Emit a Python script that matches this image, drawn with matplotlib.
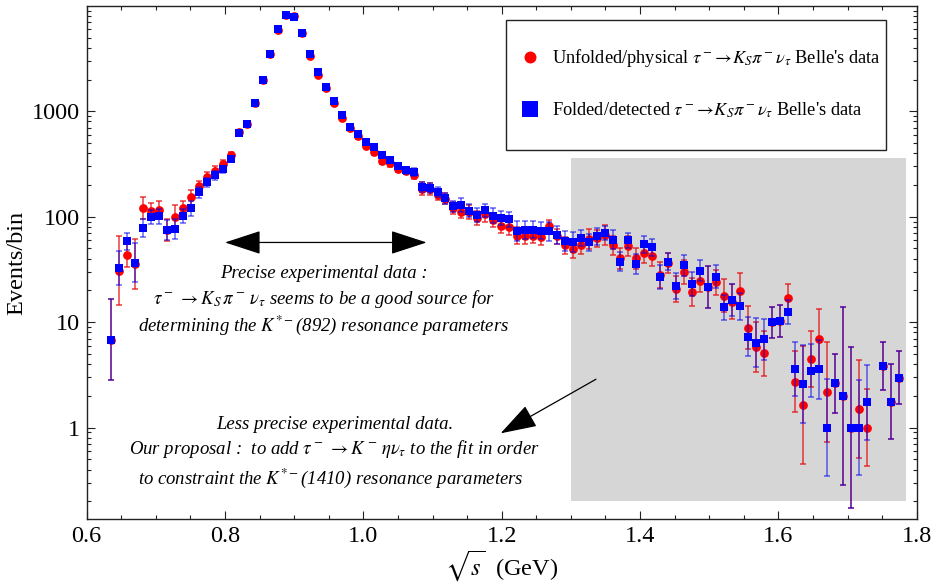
import numpy as np
import matplotlib
matplotlib.use("Agg")
import matplotlib.pyplot as plt
from matplotlib.lines import Line2D
from matplotlib.patches import Rectangle
from matplotlib.ticker import FixedLocator, LogLocator, MultipleLocator, FuncFormatter, NullFormatter

plt.rcParams['font.family'] = ['Liberation Serif', 'DejaVu Serif']
plt.rcParams['mathtext.fontset'] = 'stix'

# Belle tau -> K_S pi nu spectrum, 11.5 MeV bins (first bin centre 0.63575 GeV)
bin_first = 0.63575
bin_width = 0.0115
nbins = 100

unfolded = [6.8, 30.9, 43.6, 35.5, 120.9, 114, 116.6, 75.3, 98.6, 120.9,
            152.6, 194.2, 236.4, 271.5, 316.4, 382.3, 632, 764, 1192, 1971,
            3481, 5884, 8106, 7989, 5549, 3332, 2216, 1655, 1201, 865,
            690, 579, 472, 414, 340, 321, 286, 273.5, 250.5, 184.5,
            183, 161.8, 148.2, 120.9, 110.7, 111.6, 97.1, 106, 93.6, 82.1,
            79.2, 66, 66, 66.2, 64.1, 81, 65, 53.4, 49.7, 54.2,
            61.4, 62.3, 66.7, 53.4, 40.5, 53.0, 40.5, 45.2, 42.0, 27.9,
            36.3, 20.6, 29.8, 19.3, 24.8, 21.5, 23.8, 17.8, 15.7, 19.8,
            8.89, 5.87, 5.07, 10.0, 10.3, 17.0, 2.73, 1.64, 4.45, 6.89,
            2.19, 2.63, 2.0, 1.0, 1.50, 1.0, np.nan, 3.85, 1.76, 2.98]
unfolded_err = [6.0, 23.4, 12.1, 19.4, 29.5, 20.4, 21.2, 18.4, 25.9, 18.5,
                25, 22.4, 25, 26.8, 27.7, 28, 30, 33, 40, 52,
                70, 88, 105, 104, 87, 68, 55, 47, 40, 35,
                32, 30, 28, 26, 26, 25, 24, 23, 25, 24.9,
                24.8, 20.5, 17, 15.9, 14, 17, 14.8, 17.4, 14.7, 13.4,
                13.3, 12.5, 11.8, 10.6, 10.9, 11.8, 11.1, 9.7, 10, 11.2,
                13.4, 11.8, 14.9, 10.7, 9.3, 11.6, 9.3, 9.6, 8.9, 8.1,
                7.7, 5.8, 7.6, 6, 6.3, 9.8, 6.5, 6.5, 6, 7.9,
                4.2, 3.2, 2.5, 3.4, 3.6, 5, 1.8, 2.1, 2.7, 4.5,
                2.4, 1.7, 3.9, 1.75, 1.6, 0.84, np.nan, 2.0, 1.44, 1.74]

folded = [6.8, 32.6, 58.3, 36.8, 77.5, 99.3, 100.7, 75.3, 76.4, 100.7,
          120, 170.3, 212, 247, 281.5, 352.9, 618.6, 753, 1192, 2000,
          3507, 5970, 8166, 7816, 5549, 3455, 2331, 1680, 1264, 917,
          716, 610, 512, 459, 382, 345, 301, 275.4, 265.6, 190,
          187, 170.3, 149.3, 125.4, 128, 114, 104.5, 114.9, 102.2, 97.1,
          94.3, 72.6, 75.3, 75.3, 73.6, 72.6, 67, 58.3, 57.9, 62.7,
          57.4, 65.1, 70.0, 60.5, 37.6, 59.6, 35.5, 54.6, 51.1, 26.7,
          37.4, 22.1, 34.5, 22.9, 30.9, 21.5, 27.1, 13.8, 16.3, 14.1,
          7.30, 6.41, 6.89, 10.0, 10.3, 12.6, 3.57, 2.58, 3.47, 3.57,
          1.0, 2.63, 2.0, 1.0, 1.0, 1.74, np.nan, 3.85, 1.76, 2.98]
folded_err = [6.0, 12.2, 10.6, 15.8, 15.3, 15.6, 16.1, 16.7, 16.1, 15.4,
              18.8, 19.6, 20.9, 22.7, 22.7, 24, 26, 28, 35, 45,
              60, 77, 90, 88, 75, 58, 48, 41, 36, 31,
              28, 27, 25, 24, 23, 22, 21, 21, 24.5, 20.6,
              20, 18, 17, 14.4, 19.5, 16, 16.4, 16.7, 16.8, 14.2,
              16, 15.9, 14.6, 13.7, 13.9, 15.4, 13.4, 12.7, 12.7, 11.4,
              10.5, 12.6, 11, 12.8, 7.5, 10.2, 7.8, 9.9, 9.3, 7.1,
              7.1, 6.2, 7.8, 6, 7, 9.8, 6.9, 3.8, 5.6, 4.2,
              3.1, 3.4, 3.1, 3.4, 3.6, 3.3, 2.1, 2.2, 2.0, 2.3,
              1.06, 1.7, 3.9, 1.75, 1.04, 1.43, np.nan, 2.0, 1.44, 1.74]

x_ticks = [0.6, 0.8, 1.0, 1.2, 1.4, 1.6, 1.8]
y_ticks = [1, 10, 100, 1000]


def log_err(y, dy):
    # the errors are drawn symmetric in log(y)
    y = np.asarray(y, float)
    dy = np.asarray(dy, float)
    lo = y - y * np.exp(-dy / y)
    hi = y * np.exp(dy / y) - y
    return np.vstack([lo, hi])


sqrt_s = bin_first + bin_width * np.arange(nbins)

fig = plt.figure(figsize=(9.35, 5.85), dpi=100)
ax = fig.add_axes([0.0927, 0.1128, 0.8877, 0.8769])

ax.add_patch(Rectangle((1.3, 0.2), 0.484, 363, facecolor='#d6d6d6', edgecolor='none', zorder=0))

ax.errorbar(sqrt_s, unfolded, yerr=log_err(unfolded, unfolded_err), fmt='none',
            ecolor=(0.9, 0.05, 0.05, 0.8), elinewidth=1.1, capsize=2.3, capthick=1.1, zorder=2)
ax.plot(sqrt_s, unfolded, 'o', color='#ff0000', markersize=6.3, markeredgewidth=0, zorder=3)
ax.errorbar(sqrt_s, folded, yerr=log_err(folded, folded_err), fmt='none',
            ecolor=(0.0, 0.0, 0.95, 0.6), elinewidth=1.1, capsize=2.3, capthick=1.1, zorder=4)
ax.plot(sqrt_s, folded, 's', color='#0000ff', markersize=5.4, markeredgewidth=0, zorder=5)

ax.set_yscale('log')
ax.set_xlim(0.6, 1.8)
ax.set_ylim(0.136, 9950)

ax.xaxis.set_major_locator(FixedLocator(x_ticks))
ax.xaxis.set_minor_locator(MultipleLocator(0.05))
ax.xaxis.set_major_formatter(FuncFormatter(lambda v, p: '%.1f' % v))
ax.yaxis.set_major_locator(FixedLocator(y_ticks))
ax.yaxis.set_minor_locator(LogLocator(base=10, subs=np.arange(2, 10)))
ax.yaxis.set_major_formatter(FuncFormatter(lambda v, p: '%g' % v))
ax.yaxis.set_minor_formatter(NullFormatter())
ax.tick_params(which='both', direction='in', top=True, right=True, width=0.8, colors='#222222')
ax.tick_params(which='major', length=5.5, labelsize=17.5, pad=5, labelcolor='black')
ax.tick_params(which='minor', length=3)
for sp in ax.spines.values():
    sp.set_linewidth(1.0)
    sp.set_color('#222222')

ax.set_ylabel('Events/bin', fontsize=17.5, labelpad=3)
ax.set_xlabel(r'$\sqrt{s}$  (GeV)', fontsize=17.5, labelpad=1)

# annotations
ax.annotate('', xy=(0.8, 57), xytext=(1.0915, 57),
            arrowprops=dict(arrowstyle='<|-|>,head_length=2.3,head_width=0.75',
                            mutation_scale=10, lw=0.9, color='black', shrinkA=0, shrinkB=0))
ax.annotate('', xy=(1.1985, 0.883), xytext=(1.3363, 2.876),
            arrowprops=dict(arrowstyle='-|>,head_length=2.3,head_width=0.75',
                            mutation_scale=10, lw=0.9, color='black', shrinkA=0, shrinkB=0))

txt = dict(transform=ax.transAxes, ha='center', va='center', fontsize=13.5, fontstyle='italic')
ax.text(0.286, 0.4795, 'Precise experimental data :', **txt)
ax.text(0.286, 0.4288, r'$\tau^-\, \rightarrow K_S\, \pi^-\, \nu_\tau$ seems to be a good source for', **txt)
ax.text(0.286, 0.378, r'determining the $K^{*-}$(892) resonance parameters', **txt)
ax.text(0.299, 0.185, 'Less precise experimental data.', **txt)
ax.text(0.299, 0.1365, r'Our proposal :  to add $\tau^-\, \rightarrow K^-\, \eta\nu_\tau$ to the fit in order', **txt)
ax.text(0.294, 0.080, r'to constraint the $K^{*-}$(1410) resonance parameters', **txt)

# legend box drawn separately so that its padding matches the original
ax.add_patch(Rectangle((0.5048, 0.7193), 0.4582, 0.2534, transform=ax.transAxes,
                       facecolor='white', edgecolor='#222222', linewidth=1.0, zorder=6))
handles = [Line2D([], [], ls='none', marker='o', color='#ff0000', markersize=8.6, markeredgewidth=0),
           Line2D([], [], ls='none', marker='s', color='#0000ff', markersize=12, markeredgewidth=0)]
labels = [r"Unfolded/physical $\tau^-\!\rightarrow\! K_S\pi^-\nu_\tau$ Belle's data",
          r"Folded/detected $\tau^-\!\rightarrow\! K_S\pi^-\nu_\tau$ Belle's data"]
leg = ax.legend(handles, labels, loc='center left', bbox_to_anchor=(0.523, 0.8492),
                borderaxespad=0, borderpad=0, fontsize=13.2, frameon=False,
                labelspacing=1.7, handlelength=1.0, handletextpad=0.69)
leg.set_zorder(7)

fig.savefig('out.png', dpi=100)
